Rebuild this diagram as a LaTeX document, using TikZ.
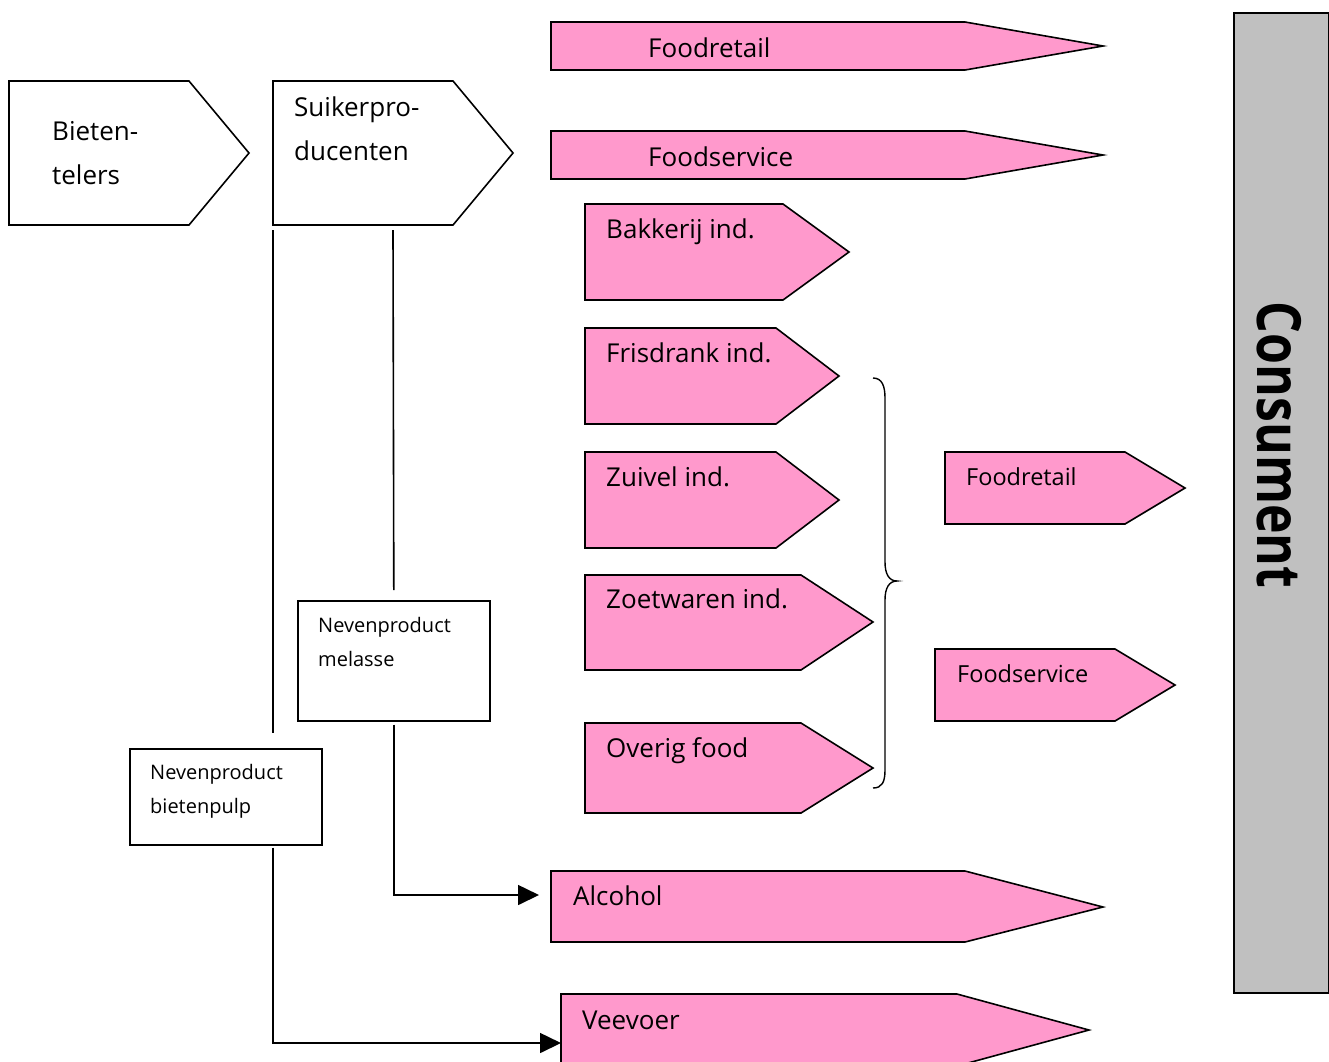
\documentclass[tikz,border=0pt]{standalone}
\usepackage{fontspec}
\setmainfont{Open Sans}
\usetikzlibrary{arrows.meta}
\definecolor{pinkfill}{RGB}{255,153,204}
\definecolor{graybar}{RGB}{192,192,192}
\begin{document}
\begin{tikzpicture}[x=1pt,y=-1pt,
  outl/.style={draw=black, line width=1.6pt, line join=miter},
  pinkshape/.style={outl, fill=pinkfill},
  bigtxt/.style={anchor=base west, inner sep=0pt, font=\fontsize{26}{26}\selectfont},
  midtxt/.style={anchor=base west, inner sep=0pt, font=\fontsize{23.5}{23.5}\selectfont},
  smalltxt/.style={anchor=base west, inner sep=0pt, font=\fontsize{20}{20}\selectfont},
  conn/.style={line width=1.6pt},
  arr/.style={conn, -{Triangle[length=21pt,width=20pt]}},
  plainbox/.style={outl, fill=white, anchor=north west, inner sep=0pt}
]
\useasboundingbox (0,0) rectangle (1329,1061);
\fill[white] (0,0) rectangle (1329,1061);

% Bietentelers
\draw[outl] (9,81) -- (189,81) -- (249,153) -- (189,225) -- (9,225) -- cycle;
\node[bigtxt] (bieten1) at (52,140) {Bieten-};
\node[bigtxt] (bieten2) at (52,184) {telers};

% Suikerproducenten
\draw[outl] (273,81) -- (453,81) -- (513,153) -- (453,225) -- (273,225) -- cycle;
\coordinate (suikerSW) at (273,225);
\coordinate (suikerS2) at (393,225);
\node[bigtxt] (suiker1) at (294,116) {Suikerpro-};
\node[bigtxt] (suiker2) at (294,160) {ducenten};

% Top long arrows
\draw[pinkshape] (551,22) -- (965,22) -- (1103,46) -- (965,70) -- (551,70) -- cycle;
\node[bigtxt] (fr1) at (648,57) {Foodretail};
\draw[pinkshape] (551,131) -- (965,131) -- (1103,155) -- (965,179) -- (551,179) -- cycle;
\node[bigtxt] (fs1) at (648,166) {Foodservice};

% Industry arrows
\draw[pinkshape] (585,204) -- (783,204) -- (849,252) -- (783,300) -- (585,300) -- cycle;
\node[bigtxt] (bakkerij) at (606,238) {Bakkerij ind.};
\draw[pinkshape] (585,328) -- (776,328) -- (839,376) -- (776,424) -- (585,424) -- cycle;
\node[bigtxt] (frisdrank) at (606,362) {Frisdrank ind.};
\draw[pinkshape] (585,452) -- (776,452) -- (839,500) -- (776,548) -- (585,548) -- cycle;
\node[bigtxt] (zuivel) at (606,486) {Zuivel ind.};
\draw[pinkshape] (585,575) -- (801,575) -- (873,622) -- (801,670) -- (585,670) -- cycle;
\node[bigtxt] (zoetwaren) at (606,608) {Zoetwaren ind.};
\draw[pinkshape] (585,723) -- (801,723) -- (873,768) -- (801,813) -- (585,813) -- cycle;
\node[bigtxt] (overig) at (606,757) {Overig food};

% Brace
\draw[line width=1.4pt] (873,378) .. controls (882,378) and (885,386) .. (885,398)
  -- (885,562) .. controls (885,574) and (889,581) .. (897,581)
  .. controls (889,581) and (885,588) .. (885,600)
  -- (885,770) .. controls (885,782) and (882,788) .. (873,788);

% Right small arrows
\draw[pinkshape] (945,452) -- (1125,452) -- (1185,488) -- (1125,524) -- (945,524) -- cycle;
\node[midtxt] (fr2) at (966,485) {Foodretail};
\draw[pinkshape] (935,649) -- (1115,649) -- (1175,685) -- (1115,721) -- (935,721) -- cycle;
\node[midtxt] (fs2) at (957,682) {Foodservice};

% Consument bar
\node[outl, fill=graybar, anchor=north west, inner sep=0pt, minimum width=95pt, minimum height=980pt] (consbar) at (1233,12) {};
\node[rotate=-90, inner sep=0pt, font=\fontsize{61}{61}\bfseries\selectfont] (cons) at (1279,445) {\scalebox{0.82}[1]{Consument}};

% Byproduct boxes
\node[plainbox, minimum width=192pt, minimum height=120pt] (melasse) at (297,600) {};
\node[smalltxt] (mel1) at (318,632) {Nevenproduct};
\node[smalltxt] (mel2) at (318,666) {melasse};
\node[plainbox, minimum width=192pt, minimum height=96pt] (pulp) at (129,748) {};
\node[smalltxt] (pulp1) at (150,779) {Nevenproduct};
\node[smalltxt] (pulp2) at (150,813) {bietenpulp};

% Bottom long arrows
\draw[pinkshape] (551,871) -- (965,871) -- (1103,907) -- (965,942) -- (551,942) -- cycle;
\coordinate (alcoholIn) at (551,895);
\node[bigtxt] (alcohol) at (573,905) {Alcohol};
\draw[pinkshape] (561,994) -- (957,994) -- (1089,1030) -- (957,1066) -- (561,1066) -- cycle;
\coordinate (veevoerIn) at (561,1043);
\node[bigtxt] (veevoer) at (582,1029) {Veevoer};

% Connectors
\draw[conn] ([yshift=-5pt]suikerSW) -- ([yshift=15pt]suikerSW |- pulp.north);
\draw[conn] ([yshift=-5pt]suikerS2) -- ([yshift=10pt]melasse.north);
\draw[arr] ([yshift=-3pt]melasse.south) |- ([xshift=-12pt]alcoholIn);
\draw[arr] ([yshift=-2pt]suikerSW |- pulp.south) |- (veevoerIn);
\end{tikzpicture}
\end{document}
